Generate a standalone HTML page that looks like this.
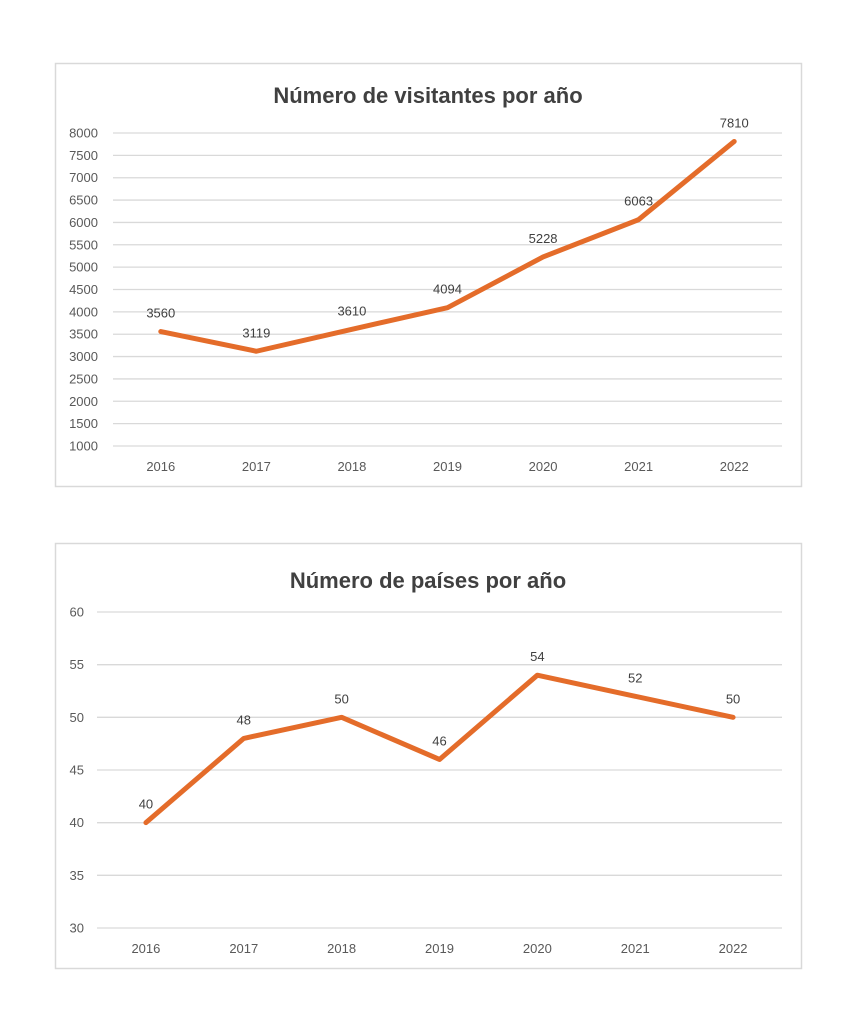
<!DOCTYPE html>
<html><head><meta charset="utf-8"><style>
body{margin:0;background:#fff;}
svg{display:block;font-family:"Liberation Sans",sans-serif;}
</style></head><body>
<svg width="849" height="1023" viewBox="0 0 849 1023">
<rect x="55.5" y="63.5" width="746" height="423" fill="#fff" stroke="#d9d9d9" stroke-width="1.5"/>
<rect x="55.5" y="543.5" width="746" height="425" fill="#fff" stroke="#d9d9d9" stroke-width="1.5"/>
<g id="c1"></g><g id="c2"></g>
<text x="428" y="103" text-anchor="middle" font-size="22" font-weight="bold" fill="#404040">Número de visitantes por año</text>
<text x="428" y="588" text-anchor="middle" font-size="22" font-weight="bold" fill="#404040">Número de países por año</text>
</svg>
<script>
var ns="http://www.w3.org/2000/svg";
function el(p,t,a,txt){var e=document.createElementNS(ns,t);for(var k in a)e.setAttribute(k,a[k]);if(txt!==undefined)e.textContent=txt;p.appendChild(e);return e;}
var years=[2016,2017,2018,2019,2020,2021,2022];
function chart(g,x0,x1,ytop,ybot,vmin,vmax,step,vals,labY){
 var n=(vmax-vmin)/step;
 for(var i=0;i<=n;i++){var v=vmin+i*step;var y=ybot-(ybot-ytop)*i/n;
  el(g,"line",{x1:x0,x2:x1,y1:y,y2:y,stroke:"#d9d9d9","stroke-width":1.3});
  el(g,"text",{x:x0-(x0>100?15:13),y:y+4.5,"text-anchor":"end","font-size":"13",fill:"#595959"},v);}
 var w=(x1-x0)/7,pts=[];
 for(var i=0;i<7;i++){var cx=x0+w*(i+0.5);var y=ybot-(vals[i]-vmin)/(vmax-vmin)*(ybot-ytop);pts.push(cx+","+y);
  el(g,"text",{x:cx,y:labY,"text-anchor":"middle","font-size":"13",fill:"#595959"},years[i]);
  el(g,"text",{x:cx,y:y-14,"text-anchor":"middle","font-size":"13",fill:"#404040"},vals[i]);}
 el(g,"polyline",{points:pts.join(" "),fill:"none",stroke:"#E46C2A","stroke-width":5,"stroke-linejoin":"round","stroke-linecap":"round"});
}
chart(document.getElementById("c1"),113,782,133,446,1000,8000,500,[3560,3119,3610,4094,5228,6063,7810],471);
chart(document.getElementById("c2"),97,782,612,928,30,60,5,[40,48,50,46,54,52,50],953);
</script>
</body></html>
